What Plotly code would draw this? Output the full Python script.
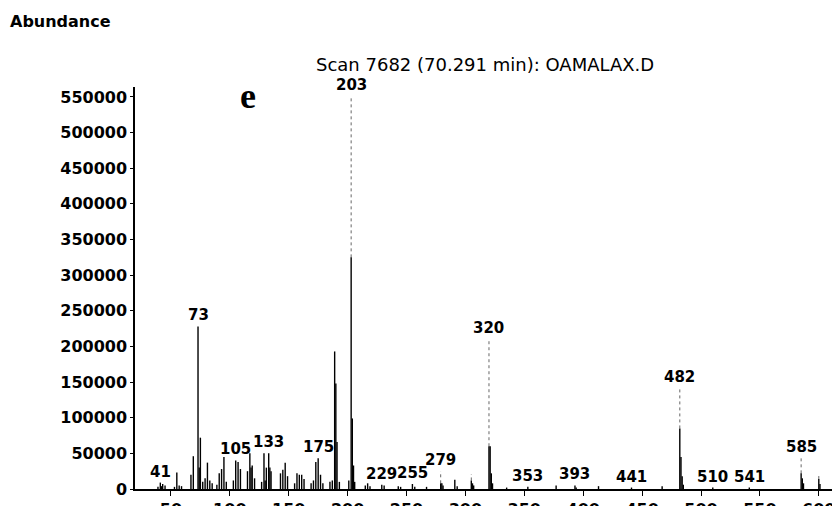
import plotly.graph_objects as go

# ---- data (m/z, abundance) ----
mz = [39, 41, 42, 43, 45, 53, 55, 57, 59, 67, 69, 73, 74, 75, 77, 79, 81, 83, 85, 89,
      91, 93, 95, 97, 103, 105, 107, 109, 115, 117, 118, 119, 121, 127, 129, 130, 131,
      133, 134, 135, 143, 145, 147, 149, 155, 157, 159, 161, 163, 169, 171, 173, 175,
      177, 179, 185, 187, 189, 190, 191, 193, 201, 203, 204, 205, 206, 215, 217, 219,
      229, 231, 243, 245, 255, 257, 267, 279, 280, 281, 291, 293, 305, 306, 307, 320,
      321, 322, 323, 335, 353, 377, 393, 394, 413, 441, 467, 482, 483, 484, 485, 510,
      541, 585, 586, 587, 600, 601]
abundance = [3000, 9000, 4000, 7000, 5000, 3000, 23000, 5000, 4000, 20000, 46000, 228000,
             30000, 72000, 10000, 15000, 37000, 12000, 8000, 6000, 22000, 28000, 45000,
             10000, 12000, 40000, 38000, 28000, 25000, 50000, 30000, 33000, 15000, 10000,
             50000, 12000, 30000, 50000, 30000, 25000, 22000, 27000, 37000, 18000, 8000,
             22000, 20000, 20000, 14000, 8000, 12000, 38000, 43000, 20000, 8000, 10000,
             12000, 193000, 148000, 66000, 10000, 12000, 552000, 99000, 33000, 10000, 5000,
             8000, 4000, 6000, 5000, 4000, 3000, 7000, 3000, 3000, 25000, 8000, 5000, 13000,
             4000, 21000, 8000, 5000, 210000, 60000, 22000, 8000, 2000, 3000, 5000, 5000,
             2000, 4000, 2000, 4000, 142000, 45000, 18000, 6000, 2000, 2000, 43000, 15000,
             8000, 21000, 7000]

# peaks whose upper part is faint (dotted) in the scan: solid level below the top
faded_mz = [203, 320, 482, 585, 600, 279, 305]
faded_solid = [325000, 60000, 85000, 22000, 14000, 8000, 12000]

# labelled peaks
label_mz = [41, 73, 105, 133, 175, 203, 229, 255, 279, 320, 353, 393, 441, 482, 510, 541, 585]

title_text = "Scan 7682 (70.291 min): OAMALAX.D"
y_title = "Abundance"
panel_letter = "e"

# ---- build vertical stick segments ----
solid_cap = dict(zip(faded_mz, faded_solid))
sx, sy, dx, dy = [], [], [], []
for m, a in zip(mz, abundance):
    top_solid = min(a, solid_cap.get(m, a))
    sx += [m, m, None]
    sy += [0, top_solid, None]
    if top_solid < a:
        dx += [m, m, None]
        dy += [top_solid, a, None]

fig = go.Figure()
fig.add_trace(go.Scatter(x=dx, y=dy, mode="lines", hoverinfo="skip",
                         line=dict(color="#666666", width=1, dash="dot"),
                         showlegend=False))
fig.add_trace(go.Scatter(x=sx, y=sy, mode="lines",
                         line=dict(color="black", width=1.4),
                         showlegend=False))

lookup = dict(zip(mz, abundance))
for m in label_mz:
    fig.add_annotation(x=m, y=lookup[m], text=str(m), showarrow=False,
                       yanchor="bottom", yshift=0,
                       font=dict(family="DejaVu Sans", size=15, color="black", weight="bold"))

fig.add_annotation(xref="paper", yref="paper", x=0.496, y=1.055, text=title_text,
                   showarrow=False, xanchor="center", yanchor="middle",
                   font=dict(family="DejaVu Sans", size=18, color="black"))
fig.add_annotation(xref="paper", yref="paper", x=-0.180, y=1.162, text=y_title,
                   showarrow=False, xanchor="left", yanchor="middle",
                   font=dict(family="DejaVu Sans", size=16, color="black", weight="bold"))
fig.add_annotation(xref="paper", yref="paper", x=0.160, y=0.978, text=panel_letter,
                   showarrow=False, xanchor="center", yanchor="middle",
                   font=dict(family="Liberation Serif", size=36, color="black", weight="bold"))

# the page body adds an 8px margin, so the figure is sized 8px smaller
fig.update_layout(
    width=832, height=498,
    margin=dict(l=127, r=0, t=79, b=17),
    paper_bgcolor="white", plot_bgcolor="white",
    showlegend=False,
)
fig.update_xaxes(range=[19.5, 618], dtick=50, tick0=0, showgrid=False, zeroline=False,
                 showline=True, linecolor="black", linewidth=1.5, automargin=False,
                 ticks="outside", ticklen=5, tickcolor="black",
                 tickfont=dict(family="DejaVu Sans", size=16, color="black", weight="bold"))
fig.update_yaxes(range=[0, 564000], dtick=50000, tick0=0, tickformat="d", showgrid=False,
                 zeroline=False, showline=True, linecolor="black", linewidth=1.5,
                 automargin=False, ticks="outside", ticklen=3, tickcolor="black",
                 tickfont=dict(family="DejaVu Sans", size=16, color="black", weight="bold"))

fig.write_html("out.html")
